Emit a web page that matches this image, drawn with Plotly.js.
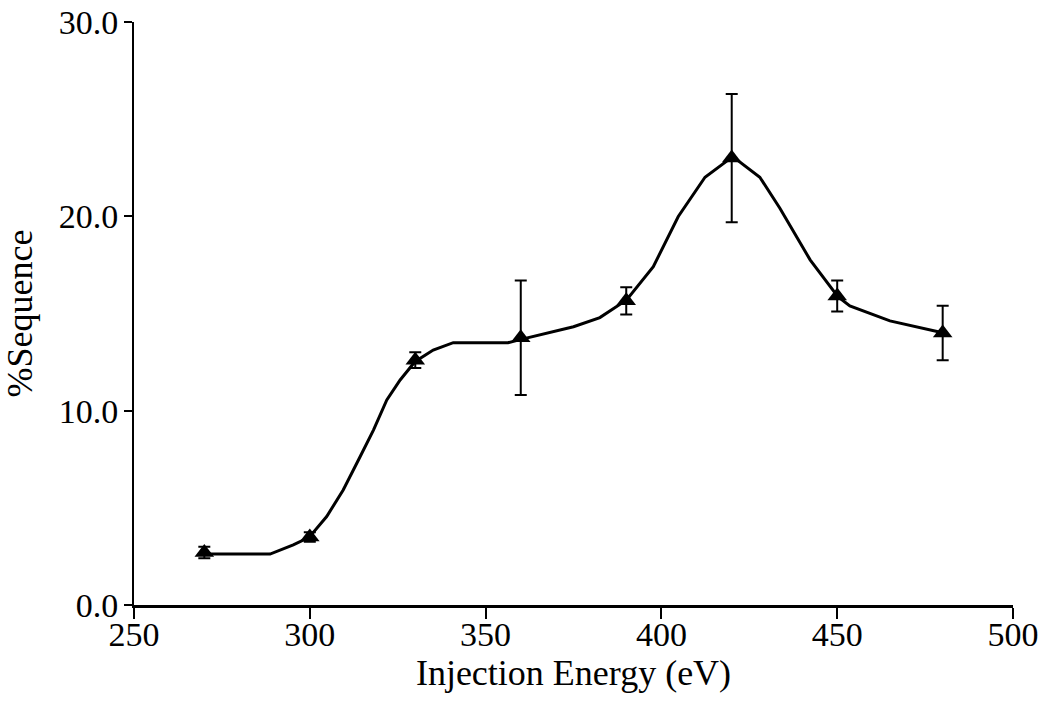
<!DOCTYPE html>
<html>
<head>
<meta charset="utf-8">
<script src="https://cdn.plot.ly/plotly-3.0.1.min.js"></script>
<style>html,body{margin:0;padding:0;background:#fff;}#chart{width:1050px;height:701px;}</style>
</head>
<body>
<div id="chart"></div>
<script>
// Measured points (mean ± error)
const energies = [270, 300, 330, 360, 390, 420, 450, 480];
const sequencePct = [2.7, 3.5, 12.6, 13.75, 15.65, 23.0, 15.9, 14.0];
const sequenceErr = [0.3, 0.25, 0.4, 2.95, 0.7, 3.3, 0.8, 1.4];

// Smooth fitted curve
const curveX = [270, 288.7, 295.3, 299.8, 304.8, 309.5, 314.3, 318.1, 321.9, 325.7, 329.9, 335.1, 340.8, 356.4, 360.1, 375, 382.5, 390.1, 397.7, 404.8, 412.4, 420.3, 428, 433.7, 442.3, 450.2, 453.6, 465, 480];
const curveY = [2.62, 2.62, 3.09, 3.48, 4.55, 5.92, 7.63, 9.0, 10.55, 11.58, 12.52, 13.12, 13.5, 13.5, 13.67, 14.32, 14.79, 15.7, 17.41, 19.99, 22.01, 23.07, 22.01, 20.42, 17.76, 15.87, 15.39, 14.62, 14.01];

const xTicks = [250, 300, 350, 400, 450, 500];
const yTicks = [0, 10, 20, 30];
const yTickText = ['0.0', '10.0', '20.0', '30.0'];

const fam = '"Liberation Serif", "Times New Roman", serif';
const tickFont = {family: fam, size: 34, color: '#000'};
const titleFont = {family: fam, size: 36, color: '#000'};

const traces = [
  {
    x: curveX, y: curveY, type: 'scatter', mode: 'lines',
    line: {color: '#000', width: 3}, hoverinfo: 'skip', showlegend: false
  },
  {
    x: energies, y: sequencePct, type: 'scatter', mode: 'markers',
    marker: {symbol: 'triangle-up', size: 17, color: '#000'},
    error_y: {type: 'data', array: sequenceErr, visible: true, color: '#000', thickness: 2, width: 6},
    showlegend: false
  }
];

const layout = {
  width: 1050, height: 701,
  margin: {l: 134, r: 37, t: 22, b: 96},
  paper_bgcolor: '#fff', plot_bgcolor: '#fff',
  font: tickFont,
  showlegend: false,
  xaxis: {
    range: [250, 500], tickvals: xTicks, ticktext: xTicks.map(String),
    showgrid: false, zeroline: false, showline: true, linecolor: '#000', linewidth: 3,
    ticks: 'outside', ticklen: 11, tickwidth: 2, tickcolor: '#000',
    ticklabelstandoff: -14,
    tickfont: tickFont,
    title: {text: 'Injection Energy (eV)', font: titleFont, standoff: 6}
  },
  yaxis: {
    range: [0, 30], tickvals: yTicks, ticktext: yTickText,
    showgrid: false, zeroline: false, showline: true, linecolor: '#000', linewidth: 2,
    ticks: 'outside', ticklen: 8, tickwidth: 2, tickcolor: '#000',
    ticklabelstandoff: -1,
    tickfont: tickFont,
    title: {text: '%Sequence', font: titleFont, standoff: 16}
  }
};

Plotly.newPlot('chart', traces, layout, {displayModeBar: false, staticPlot: true});
</script>
</body>
</html>
